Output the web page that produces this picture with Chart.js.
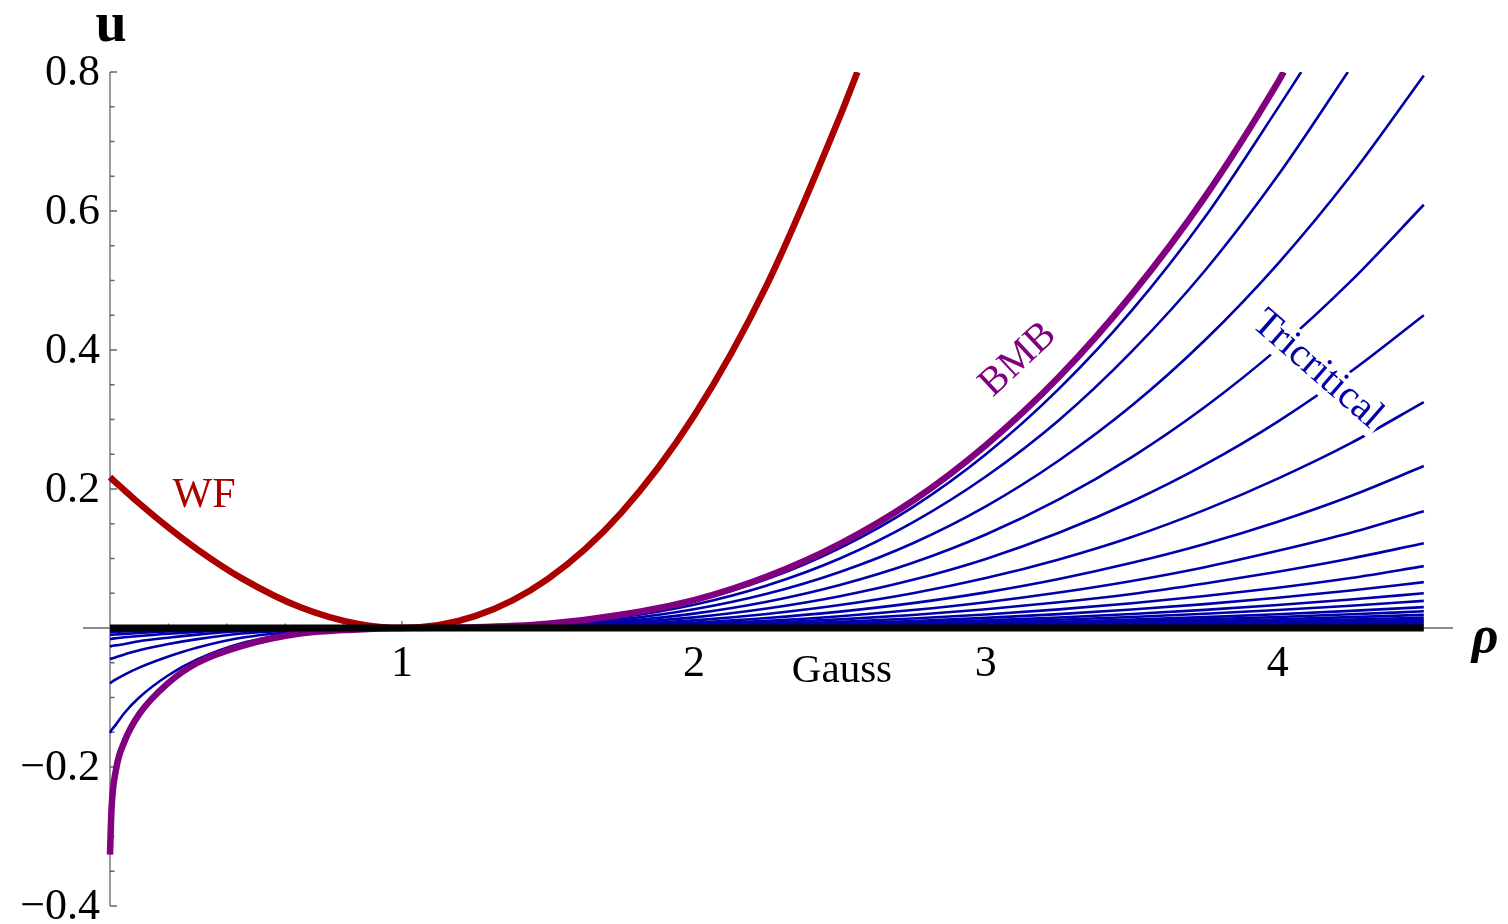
<!DOCTYPE html>
<html>
<head>
<meta charset="utf-8">
<script src="https://cdn.jsdelivr.net/npm/chart.js@4.4.1/dist/chart.umd.min.js"></script>
<style>
  html, body { margin: 0; padding: 0; background: #fff; }
  #wrap { width: 1508px; height: 924px; }
</style>
</head>
<body>
<div id="wrap"><canvas id="chart" width="1508" height="924"></canvas></div>
<script>
// sample points along rho (left part down to the minimum, right part up to 4.5)
const rhoLeft = [0, 0.005, 0.02, 0.05, 0.1, 0.2, 0.3, 0.45, 0.65, 0.85, 1];
const rhoRight = [1.25, 1.5, 1.75, 2, 2.25, 2.5, 2.75, 3, 3.25, 3.5, 3.75, 4, 4.25, 4.5];

// Gauss (flat line)
const gaussRho = [0, 4.5];
const gaussU = [0, 0];

// Wilson-Fisher
const wfLeft = [0.217, 0.2151, 0.2093, 0.1979, 0.1793, 0.1445, 0.1128, 0.0717, 0.0301, 0.0057, 0];
const wfRight = [0.0170, 0.0708, 0.1654, 0.305, 0.4937, 0.7358, null, null, null, null, null, null, null, null];
const wfExit = 2.56;

// BMB
const bmbLeft = [-0.326, -0.262, -0.205, -0.163, -0.124, -0.079, -0.050, -0.026, -0.008, -0.002, 0];
const bmbRight = [0.001, 0.006, 0.019, 0.040, 0.074, 0.121, 0.183, 0.263, 0.361, 0.480, 0.620, 0.785, null, null];
const bmbExit = 4.02;

// tricritical family
const tricritLeft = [
  [-0.151, -0.147, -0.139, -0.122, -0.100, -0.068, -0.045, -0.022, -0.007, -0.001, 0],
  [-0.080, -0.078, -0.074, -0.067, -0.057, -0.041, -0.028, -0.014, -0.005, -0.001, 0],
  [-0.045, -0.044, -0.042, -0.038, -0.032, -0.023, -0.016, -0.008, -0.003, -0.001, 0],
  [-0.027, -0.026, -0.025, -0.023, -0.019, -0.014, -0.0095, -0.0047, -0.0017, -0.0003, 0],
  [-0.016, -0.0156, -0.0148, -0.0134, -0.0114, -0.0082, -0.0056, -0.0028, -0.001, -0.0002, 0],
  [-0.010, -0.0098, -0.0093, -0.0084, -0.0071, -0.0051, -0.0035, -0.0018, -0.0006, -0.0001, 0],
  [-0.006, -0.0059, -0.0056, -0.005, -0.0043, -0.0031, -0.0021, -0.0011, -0.0004, 0, 0],
  [-0.004, -0.0039, -0.0037, -0.0034, -0.0029, -0.002, -0.0014, -0.0007, -0.0002, 0, 0],
  [-0.0025, -0.0024, -0.0023, -0.0021, -0.0018, -0.0013, -0.0009, -0.0004, -0.0001, 0, 0],
  [-0.0016, -0.0016, -0.0015, -0.0013, -0.0011, -0.0008, -0.0006, -0.0003, -0.0001, 0, 0],
  [-0.001, -0.001, -0.0009, -0.0008, -0.0007, -0.0005, -0.0004, -0.0002, 0, 0, 0],
  [-0.0008, -0.0008, -0.0007, -0.0006, -0.0005, -0.0004, -0.0003, -0.0001, 0, 0, 0],
  [-0.0006, -0.0006, -0.0006, -0.0005, -0.0004, -0.0003, -0.0002, -0.0001, 0, 0, 0],
  [-0.0005, -0.0005, -0.0005, -0.0004, -0.0003, -0.0002, -0.0002, -0.0001, 0, 0, 0],
  [-0.0004, -0.0004, -0.0004, -0.0003, -0.0003, -0.0002, -0.0001, 0, 0, 0, 0],
  [-0.0003, -0.0003, -0.0003, -0.0003, -0.0002, -0.0002, -0.0001, 0, 0, 0, 0],
  [-0.0003, -0.0003, -0.0002, -0.0002, -0.0002, -0.0001, -0.0001, 0, 0, 0, 0],
  [-0.0002, -0.0002, -0.0002, -0.0002, -0.0001, -0.0001, 0, 0, 0, 0, 0],
  [-0.0002, -0.0002, -0.0001, -0.0001, -0.0001, -0.0001, 0, 0, 0, 0, 0],
  [-0.0001, -0.0001, -0.0001, -0.0001, -0.0001, 0, 0, 0, 0, 0, 0]
];
const tricritRight = [
  [0.0009, 0.0059, 0.0177, 0.0385, 0.0703, 0.115, 0.174, 0.250, 0.344, 0.457, 0.591, 0.748, null, null],
  [0.0008, 0.0052, 0.0154, 0.0335, 0.0612, 0.100, 0.152, 0.218, 0.299, 0.398, 0.514, 0.651, null, null],
  [0.0006, 0.0042, 0.0124, 0.027, 0.0493, 0.0807, 0.122, 0.175, 0.241, 0.320, 0.414, 0.524, 0.651, 0.795],
  [0.0005, 0.0032, 0.0095, 0.0207, 0.0378, 0.0619, 0.0938, 0.1345, 0.185, 0.246, 0.318, 0.402, 0.499, 0.609],
  [0.0004, 0.0024, 0.007, 0.0153, 0.028, 0.0457, 0.0693, 0.0994, 0.137, 0.182, 0.235, 0.297, 0.369, 0.450],
  [0.0003, 0.0017, 0.0051, 0.011, 0.0202, 0.033, 0.050, 0.0718, 0.0987, 0.131, 0.170, 0.215, 0.266, 0.325],
  [0.0002, 0.0012, 0.0036, 0.0079, 0.0144, 0.0236, 0.0358, 0.0513, 0.0705, 0.0938, 0.121, 0.153, 0.190, 0.233],
  [0.0001, 0.0009, 0.0026, 0.0057, 0.0104, 0.017, 0.0258, 0.037, 0.051, 0.0677, 0.0875, 0.111, 0.137, 0.168],
  [0.0001, 0.0006, 0.0019, 0.0042, 0.0076, 0.0124, 0.0188, 0.027, 0.037, 0.049, 0.064, 0.081, 0.100, 0.122],
  [0.0001, 0.0005, 0.0014, 0.003, 0.0055, 0.009, 0.0136, 0.0195, 0.0268, 0.0356, 0.046, 0.058, 0.072, 0.089],
  [0.0001, 0.0003, 0.001, 0.0022, 0.0041, 0.0067, 0.0101, 0.0146, 0.020, 0.0266, 0.0344, 0.0435, 0.054, 0.066],
  [0, 0.0003, 0.0008, 0.0017, 0.0031, 0.0051, 0.0077, 0.011, 0.0152, 0.0202, 0.0261, 0.033, 0.041, 0.050],
  [0, 0.0002, 0.0006, 0.0013, 0.0024, 0.004, 0.006, 0.0086, 0.0119, 0.0158, 0.0204, 0.0258, 0.032, 0.039],
  [0, 0.0002, 0.0005, 0.001, 0.0019, 0.003, 0.0046, 0.0066, 0.0091, 0.0121, 0.0157, 0.0198, 0.0246, 0.030],
  [0, 0.0001, 0.0004, 0.0008, 0.0015, 0.0025, 0.0037, 0.0053, 0.0073, 0.0097, 0.0125, 0.0159, 0.0197, 0.024],
  [0, 0.0001, 0.0003, 0.00065, 0.0012, 0.0019, 0.0029, 0.0042, 0.0058, 0.0077, 0.0099, 0.0126, 0.0156, 0.019],
  [0, 0.0001, 0.0002, 0.0005, 0.0009, 0.0015, 0.0023, 0.0033, 0.0046, 0.0061, 0.0078, 0.0099, 0.0123, 0.015],
  [0, 0, 0.0002, 0.0004, 0.0007, 0.0012, 0.0018, 0.0027, 0.0036, 0.0048, 0.0063, 0.0079, 0.0098, 0.012],
  [0, 0, 0.0001, 0.0003, 0.0006, 0.0009, 0.0014, 0.002, 0.0027, 0.0036, 0.0047, 0.0059, 0.0074, 0.009],
  [0, 0, 0.0001, 0.0002, 0.0004, 0.0006, 0.0009, 0.0013, 0.0018, 0.0024, 0.0031, 0.004, 0.0049, 0.006]
];
const tricritExit = [4.08, 4.24];

// axes ticks
const xMajor = [1, 2, 3, 4];
const xMajorLabels = ["1", "2", "3", "4"];
const xMinor = [0.2, 0.4, 0.6, 0.8, 1.2, 1.4, 1.6, 1.8, 2.2, 2.4, 2.6, 2.8, 3.2, 3.4, 3.6, 3.8, 4.2, 4.4];
const yMajor = [-0.4, -0.2, 0.2, 0.4, 0.6, 0.8];
const yMajorLabels = ["\u22120.4", "\u22120.2", "0.2", "0.4", "0.6", "0.8"];
const yMinor = [-0.35, -0.3, -0.25, -0.15, -0.1, -0.05, 0.05, 0.1, 0.15, 0.25, 0.3, 0.35, 0.45, 0.5, 0.55, 0.65, 0.7, 0.75];

const BLUE = "#0000aa", RED = "#aa0000", PURPLE = "#800080";
const SERIF = '"Liberation Serif", "Times New Roman", serif';

function curvePoints(left, right, exit) {
    const pts = [];
    rhoLeft.forEach((r, i) => pts.push({ x: r, y: left[i] }));
    rhoRight.forEach((r, i) => { if (right[i] !== null) pts.push({ x: r, y: right[i] }); });
    if (exit) pts.push({ x: exit, y: 0.8 });
    return pts;
}

function line(points, color, width) {
    return {
        data: points,
        showLine: true,
        borderColor: color,
        borderWidth: width,
        pointRadius: 0,
        fill: false,
        cubicInterpolationMode: "monotone"
    };
}

// first dataset is drawn on top
const datasets = [];
datasets.push(line(gaussRho.map((r, i) => ({ x: r, y: gaussU[i] })), "#000", 7));
datasets.push(line(curvePoints(wfLeft, wfRight, wfExit), RED, 6.5));
datasets.push(line(curvePoints(bmbLeft, bmbRight, bmbExit), PURPLE, 6.5));
tricritRight.forEach((vals, k) => {
    datasets.push(line(curvePoints(tricritLeft[k], vals, tricritExit[k]), BLUE, 2.6));
});

function drawLabel(ctx, text, px, py, font, color, align, baseline, angle, background) {
    ctx.save();
    ctx.translate(px, py);
    if (angle) ctx.rotate(angle * Math.PI / 180);
    ctx.font = font;
    ctx.textAlign = align;
    ctx.textBaseline = baseline;
    if (background) {
        const w = ctx.measureText(text).width;
        const size = parseFloat(font.match(/(\d+)px/)[1]);
        ctx.fillStyle = "#fff";
        ctx.fillRect(-w / 2 - 4, -size * 0.48, w + 8, size * 0.96);
    }
    ctx.fillStyle = color;
    ctx.fillText(text, 0, 0);
    ctx.restore();
}

const axesPlugin = {
    id: "mathAxes",
    beforeDatasetsDraw(chart) {
        const { ctx, chartArea, scales: { x, y } } = chart;
        const x0 = x.getPixelForValue(0), y0 = y.getPixelForValue(0);
        ctx.save();
        ctx.strokeStyle = "#666";
        ctx.lineWidth = 1.3;
        ctx.beginPath();
        ctx.moveTo(chartArea.left, y0); ctx.lineTo(chartArea.right, y0);
        ctx.moveTo(x0, chartArea.top); ctx.lineTo(x0, chartArea.bottom);
        xMajor.forEach(v => { const p = x.getPixelForValue(v); ctx.moveTo(p, y0); ctx.lineTo(p, y0 - 7); });
        xMinor.forEach(v => { const p = x.getPixelForValue(v); ctx.moveTo(p, y0); ctx.lineTo(p, y0 - 4.5); });
        yMajor.forEach(v => { const p = y.getPixelForValue(v); ctx.moveTo(x0, p); ctx.lineTo(x0 + 7, p); });
        yMinor.forEach(v => { const p = y.getPixelForValue(v); ctx.moveTo(x0, p); ctx.lineTo(x0 + 4.5, p); });
        ctx.stroke();
        ctx.restore();
    },
    afterDatasetsDraw(chart) {
        const { ctx, scales: { x, y } } = chart;
        const x0 = x.getPixelForValue(0), y0 = y.getPixelForValue(0);
        const tickFont = "44px " + SERIF;
        xMajor.forEach((v, i) => drawLabel(ctx, xMajorLabels[i], x.getPixelForValue(v), y0 + 48, tickFont, "#000", "center", "alphabetic"));
        yMajor.forEach((v, i) => drawLabel(ctx, yMajorLabels[i], x0 - 10, y.getPixelForValue(v) + 1, tickFont, "#000", "right", "middle"));

        drawLabel(ctx, "u", x.getPixelForValue(0.004), y.getPixelForValue(0.845), "bold 56px " + SERIF, "#000", "center", "alphabetic");
        drawLabel(ctx, "\u03C1", x.getPixelForValue(4.664), y.getPixelForValue(-0.035), "italic bold 52px " + SERIF, "#000", "left", "alphabetic");

        drawLabel(ctx, "WF", x.getPixelForValue(0.322), y.getPixelForValue(0.174), "42px " + SERIF, RED, "center", "alphabetic");
        drawLabel(ctx, "Gauss", x.getPixelForValue(2.507), y.getPixelForValue(-0.078), "41px " + SERIF, "#000", "center", "alphabetic");
        drawLabel(ctx, "BMB", x.getPixelForValue(3.11), y.getPixelForValue(0.386), "40px " + SERIF, PURPLE, "center", "middle", -43);
        drawLabel(ctx, "Tricritical", x.getPixelForValue(4.135), y.getPixelForValue(0.372), "40px " + SERIF, BLUE, "center", "middle", 41, true);
    }
};

new Chart(document.getElementById("chart"), {
    type: "scatter",
    data: { datasets: datasets },
    options: {
        responsive: false,
        animation: false,
        layout: { padding: { left: 83, right: 55, top: 72, bottom: 18 } },
        scales: {
            x: { type: "linear", min: -0.0925, max: 4.6, display: false },
            y: { type: "linear", min: -0.4, max: 0.8, display: false }
        },
        plugins: { legend: { display: false }, tooltip: { enabled: false } }
    },
    plugins: [axesPlugin]
});
</script>
</body>
</html>
